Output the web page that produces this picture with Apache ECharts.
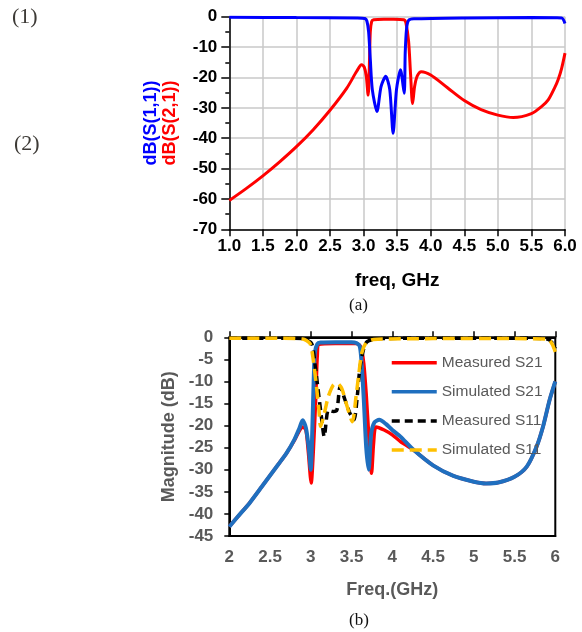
<!DOCTYPE html>
<html><head><meta charset="utf-8">
<script src="https://cdn.jsdelivr.net/npm/echarts@6/dist/echarts.min.js"></script>
<style>html,body{margin:0;padding:0;background:#fff}#c{width:582px;height:632px}</style>
</head><body><div id="c"></div>
<script>
// ---------- Chart (a) data: [freq GHz, dB] ----------
const s21A = [[1.0,-60.5],[1.25,-56.6],[1.5,-52.4],[1.75,-47.8],[2.0,-42.8],[2.25,-37.2],[2.5,-30.8],[2.75,-23.5],[2.9,-17.9],[2.97,-15.8],[3.01,-16.6],[3.04,-19.5],[3.068,-25.8],[3.085,-17],[3.1,-5],[3.12,-1.6],[3.15,-1.0],[3.3,-0.8],[3.45,-0.8],[3.6,-1.0],[3.63,-2.0],[3.67,-8],[3.7,-19],[3.73,-28.6],[3.76,-23],[3.8,-19.5],[3.86,-18.1],[4.0,-19.2],[4.25,-23.4],[4.5,-27.6],[4.75,-30.6],[5.0,-32.4],[5.23,-33.2],[5.5,-31.9],[5.65,-29.6],[5.75,-27.4],[5.85,-23.2],[5.9,-20.6],[5.95,-17.0],[6.0,-12.0]];
const s11A = [[1.0,-0.2],[2.0,-0.3],[2.9,-0.4],[3.02,-0.6],[3.05,-1.5],[3.075,-5],[3.1,-14],[3.13,-24],[3.2,-31.2],[3.26,-23],[3.33,-19.6],[3.39,-24],[3.44,-38.4],[3.49,-24],[3.55,-17.5],[3.605,-25.2],[3.62,-12],[3.64,-4],[3.67,-1.2],[3.75,-0.7],[4.5,-0.4],[5.5,-0.3],[5.95,-0.4],[6.0,-2.2]];
const yTicksA = ['0','-10','-20','-30','-40','-50','-60','-70'];
const xTicksA = ['1.0','1.5','2.0','2.5','3.0','3.5','4.0','4.5','5.0','5.5','6.0'];

// ---------- Chart (b) data: [freq GHz, dB] ----------
const measS21 = [[2.0,-42.9],[2.1,-40.7],[2.25,-37.5],[2.4,-33.8],[2.5,-31.3],[2.6,-28.8],[2.7,-26.3],[2.8,-23.3],[2.85,-21.5],[2.9,-20.3],[2.94,-21],[2.97,-26],[3.005,-33],[3.03,-26],[3.06,-14],[3.08,-4],[3.1,-1.6],[3.3,-1.4],[3.55,-1.4],[3.6,-1.8],[3.62,-2.5],[3.65,-6],[3.68,-13],[3.71,-22],[3.745,-30.8],[3.77,-24],[3.8,-20.3],[3.9,-21],[4.0,-22.1],[4.1,-23.6],[4.25,-25.4],[4.5,-29.0],[4.75,-31.4],[5.0,-32.7],[5.15,-33.1],[5.3,-32.9],[5.5,-31.6],[5.65,-29.3],[5.77,-24.8],[5.85,-20.2],[5.93,-14.2],[6.0,-10.0]];
const simS21 = [[2.0,-42.9],[2.1,-40.7],[2.25,-37.5],[2.4,-33.8],[2.5,-31.3],[2.6,-28.8],[2.7,-26.3],[2.8,-23.1],[2.86,-20.6],[2.9,-18.8],[2.94,-20.5],[2.975,-25],[3.0,-30],[3.02,-20],[3.035,-10],[3.05,-3.5],[3.08,-1.5],[3.12,-1.2],[3.3,-1.1],[3.5,-1.1],[3.56,-1.3],[3.6,-2.0],[3.62,-5],[3.65,-14],[3.68,-25],[3.71,-30],[3.74,-22],[3.78,-19.3],[3.84,-18.7],[3.92,-19.6],[4.0,-21.0],[4.1,-22.5],[4.25,-25.3],[4.5,-29.0],[4.75,-31.4],[5.0,-32.7],[5.15,-33.1],[5.3,-32.9],[5.5,-31.6],[5.65,-29.3],[5.77,-24.8],[5.85,-20.2],[5.93,-14.2],[6.0,-10.0]];
const measS11 = [[2.0,-0.2],[2.5,-0.2],[2.9,-0.3],[3.01,-1.4],[3.05,-5.9],[3.09,-11.9],[3.13,-18],[3.165,-22.5],[3.215,-16.5],[3.276,-16.8],[3.32,-16.5],[3.36,-11.2],[3.42,-14.2],[3.48,-17.2],[3.53,-18.7],[3.57,-13.4],[3.6,-7.4],[3.645,-2.9],[3.69,-1.0],[3.85,-0.3],[4.5,-0.2],[5.5,-0.2],[5.9,-0.4],[5.96,-1.2],[6.0,-2.6]];
const simS11 = [[2.0,-0.2],[2.5,-0.2],[2.9,-0.4],[2.99,-1.4],[3.03,-5.1],[3.07,-11.2],[3.1,-16.5],[3.12,-20.2],[3.175,-16.5],[3.215,-13.4],[3.276,-10.8],[3.325,-10.4],[3.38,-11.6],[3.44,-15.3],[3.51,-19.1],[3.555,-13.4],[3.59,-8.2],[3.625,-3.6],[3.68,-1.2],[3.77,-0.5],[4.5,-0.3],[5.5,-0.3],[5.91,-0.4],[5.96,-1.5],[6.0,-3.3]];
const legendNamesB = ['Measured S21','Simulated S21','Measured S11','Simulated S11'];

const chart = echarts.init(document.getElementById('c'), null, {renderer:'canvas'});
const F = 'Liberation Sans, Arial, Helvetica, sans-serif';
const SERIF = 'Liberation Serif, Times New Roman, serif';
const gray = '#595959';

const option = {
  animation: false,
  backgroundColor: '#ffffff',
  grid: [
    {left: 229.3, right: 17, top: 16.7, bottom: 402.7, outerBoundsMode: 'none'},
    {left: 229.3, right: 26.7, top: 337.3, bottom: 96, outerBoundsMode: 'none', show: true, borderColor: '#000', borderWidth: 2, backgroundColor: 'transparent'}
  ],
  xAxis: [
    {gridIndex: 0, type: 'value', min: 1, max: 6, interval: 0.5, position: 'bottom',
     name: 'freq, GHz', nameLocation: 'middle', nameGap: 42,
     nameTextStyle: {fontFamily: F, fontWeight: 'bold', fontSize: 19, color: '#000'},
     axisLine: {onZero: false, lineStyle: {color: '#000', width: 1.5}},
     axisTick: {show: true, inside: false, length: 7, lineStyle: {color: '#000', width: 1.5}},
     axisLabel: {margin: 9, fontFamily: F, fontWeight: 'bold', fontSize: 17, color: '#000',
       formatter: v => xTicksA[Math.round((v - 1) / 0.5)]},
     splitLine: {show: true, lineStyle: {color: '#c8c8c8', width: 1.5}}},
    {gridIndex: 1, type: 'value', min: 2, max: 6, interval: 0.5, position: 'bottom',
     name: 'Freq.(GHz)', nameLocation: 'middle', nameGap: 45,
     nameTextStyle: {fontFamily: F, fontWeight: 'bold', fontSize: 18, color: gray},
     axisLine: {onZero: false, lineStyle: {color: '#000', width: 2}},
     axisTick: {show: false},
     axisLabel: {margin: 13, fontFamily: F, fontWeight: 'bold', fontSize: 17, color: gray},
     splitLine: {show: false}},
    {gridIndex: 1, type: 'value', min: 2, max: 6, interval: 0.5, position: 'top',
     axisLine: {onZero: false, lineStyle: {color: '#000', width: 2}},
     axisTick: {show: true, inside: false, length: 6, lineStyle: {color: '#000', width: 1.5}},
     axisLabel: {show: false}, splitLine: {show: false}}
  ],
  yAxis: [
    {gridIndex: 0, type: 'value', min: -70, max: 0, interval: 10,
     name: '{b|dB(S(1,1))}\n{r|dB(S(2,1))}', nameLocation: 'middle', nameGap: 50, nameRotate: 90,
     nameTextStyle: {fontFamily: F, fontWeight: 'bold', fontSize: 18, lineHeight: 19,
       rich: {b: {color: '#0000ff', fontFamily: F, fontWeight: 'bold', fontSize: 18, lineHeight: 19},
              r: {color: '#ff0000', fontFamily: F, fontWeight: 'bold', fontSize: 18, lineHeight: 19}}},
     axisLine: {show: true, onZero: false, lineStyle: {color: '#000', width: 1.5}},
     axisTick: {show: true, inside: false, length: 8, lineStyle: {color: '#000', width: 1.5}},
     minorTick: {show: true, splitNumber: 2, length: 4, lineStyle: {color: '#000', width: 1.5}},
     axisLabel: {margin: 12, fontFamily: F, fontWeight: 'bold', fontSize: 17, color: '#000',
       formatter: v => yTicksA[Math.round(-v / 10)]},
     splitLine: {show: true, lineStyle: {color: '#c8c8c8', width: 1.5}}},
    {gridIndex: 1, type: 'value', min: -45, max: 0, interval: 5,
     name: 'Magnitude (dB)', nameLocation: 'middle', nameGap: 49, nameRotate: 90,
     nameTextStyle: {fontFamily: F, fontWeight: 'bold', fontSize: 18, color: gray},
     axisLine: {show: true, onZero: false, lineStyle: {color: '#000', width: 2}},
     axisTick: {show: true, inside: false, length: 5, lineStyle: {color: '#000', width: 1.5}},
     axisLabel: {margin: 16, fontFamily: F, fontWeight: 'bold', fontSize: 17, color: gray},
     splitLine: {show: false}}
  ],
  legend: {
    data: legendNamesB, orient: 'vertical', left: 385, top: 349.7, padding: 5,
    itemWidth: 45, itemHeight: 14, itemGap: 13.1,
    itemStyle: {opacity: 0},
    lineStyle: {width: 3.5},
    textStyle: {fontFamily: F, fontSize: 15.5, lineHeight: 14, color: gray},
    selectedMode: false
  },
  series: [
    {name: 'dB(S(2,1))', type: 'line', xAxisIndex: 0, yAxisIndex: 0, data: s21A, showSymbol: false, symbol: 'none',
     smooth: 0.3, lineStyle: {color: '#ff0000', width: 3}, itemStyle: {color: '#ff0000'}},
    {name: 'dB(S(1,1))', type: 'line', xAxisIndex: 0, yAxisIndex: 0, data: s11A, showSymbol: false, symbol: 'none',
     smooth: 0.25, lineStyle: {color: '#0000ff', width: 3}, itemStyle: {color: '#0000ff'}},
    {name: legendNamesB[0], type: 'line', xAxisIndex: 1, yAxisIndex: 1, data: measS21, showSymbol: false, symbol: 'none',
     smooth: 0.25, lineStyle: {color: '#ff0000', width: 3.5}, itemStyle: {color: '#ff0000'}},
    {name: legendNamesB[1], type: 'line', xAxisIndex: 1, yAxisIndex: 1, data: simS21, showSymbol: false, symbol: 'none',
     smooth: 0.25, lineStyle: {color: '#1f6fbf', width: 4}, itemStyle: {color: '#1f6fbf'}},
    {name: legendNamesB[2], type: 'line', xAxisIndex: 1, yAxisIndex: 1, data: measS11, showSymbol: false, symbol: 'none',
     smooth: 0.25, lineStyle: {color: '#000000', width: 3.5, type: [8, 5]}, itemStyle: {color: '#000000'}},
    {name: legendNamesB[3], type: 'line', xAxisIndex: 1, yAxisIndex: 1, data: simS11, showSymbol: false, symbol: 'none',
     smooth: 0.25, lineStyle: {color: '#ffc000', width: 3.5, type: [12, 6]}, itemStyle: {color: '#ffc000'}}
  ],
  graphic: [
    {type: 'text', left: 12, top: 6, style: {text: '(1)', fontFamily: SERIF, fontSize: 22, fill: '#3d3a36'}},
    {type: 'text', left: 14, top: 133, style: {text: '(2)', fontFamily: SERIF, fontSize: 22, fill: '#3d3a36'}},
    {type: 'text', left: 349, top: 297, style: {text: '(a)', fontFamily: SERIF, fontSize: 17, fill: '#111'}},
    {type: 'text', left: 349, top: 612, style: {text: '(b)', fontFamily: SERIF, fontSize: 17, fill: '#111'}}
  ]
};
chart.setOption(option);
</script></body></html>
